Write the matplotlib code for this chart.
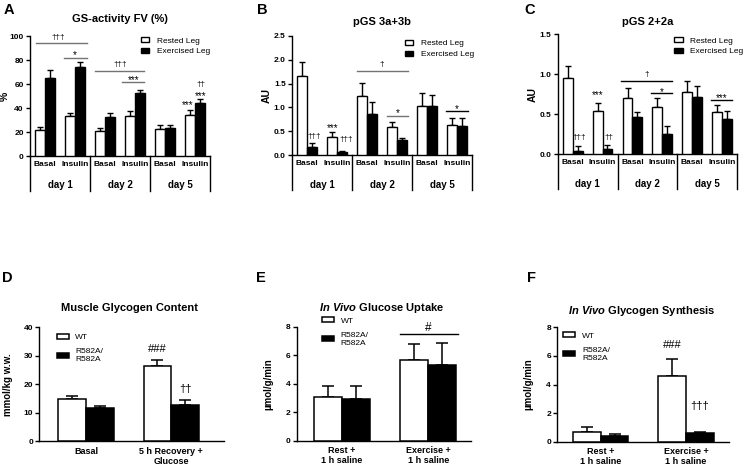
import numpy as np
import matplotlib.pyplot as plt
from matplotlib.ticker import FormatStrFormatter

plt.rcParams['font.family'] = ['Liberation Sans', 'DejaVu Sans']
plt.rcParams['mathtext.fontset'] = 'custom'
plt.rcParams['mathtext.it'] = 'Liberation Sans:italic:bold'
plt.rcParams['mathtext.rm'] = 'Liberation Sans:bold'
plt.rcParams['mathtext.bf'] = 'Liberation Sans:bold'

# --- data: top row (day 1 / 2 / 5, Basal / Insulin) ---
days = ['day 1', 'day 2', 'day 5']
conditions = ['Basal', 'Insulin']

gs_rested = [21.7, 33.3, 20.6, 33.3, 22.8, 34.2]
gs_rested_err = [2.5, 2.8, 2.7, 4.5, 3.3, 3.9]
gs_exercised = [65.0, 74.4, 32.2, 52.2, 23.3, 44.2]
gs_exercised_err = [6.4, 4.2, 3.4, 2.8, 2.5, 3.6]

p3_rested = [1.66, 0.39, 1.25, 0.60, 1.04, 0.64]
p3_rested_err = [0.28, 0.10, 0.27, 0.10, 0.26, 0.15]
p3_exercised = [0.17, 0.07, 0.86, 0.32, 1.04, 0.61]
p3_exercised_err = [0.08, 0.03, 0.25, 0.05, 0.23, 0.16]

p2_rested = [0.954, 0.546, 0.70, 0.59, 0.78, 0.525]
p2_rested_err = [0.15, 0.10, 0.13, 0.11, 0.13, 0.095]
p2_exercised = [0.042, 0.07, 0.46, 0.25, 0.72, 0.446]
p2_exercised_err = [0.062, 0.04, 0.07, 0.10, 0.13, 0.10]

# --- data: bottom row (WT vs R582A/R582A) ---
glyc_labels = ['Basal', '5 h Recovery +\nGlucose']
glyc_wt = [14.85, 26.5]
glyc_wt_err = [1.05, 2.2]
glyc_ko = [11.8, 12.6]
glyc_ko_err = [0.7, 1.8]

saline_labels = ['Rest +\n1 h saline', 'Exercise +\n1 h saline']
uptake_wt = [3.09, 5.66]
uptake_wt_err = [0.75, 1.12]
uptake_ko = [2.9, 5.31]
uptake_ko_err = [0.94, 1.52]

synth_wt = [0.67, 4.6]
synth_wt_err = [0.38, 1.21]
synth_ko = [0.37, 0.58]
synth_ko_err = [0.14, 0.12]

# significance marks: (x0, x1, y, colour) for lines, (x, y, text) for daggers / stars
a_lines = [(0.2, 1.89, 94, '0.45'), (1.14, 1.89, 82, '0.45'),
           (2.17, 3.8, 71, '0.45'), (3.08, 3.8, 61.4, '0.45')]
a_daggers = [(0.94, 96, '†††'), (3.0, 73, '†††'), (5.69, 56.5, '††')]
a_stars = [(1.5, 81.8, '*'), (3.45, 60.7, '***'), (5.25, 40.2, '***'), (5.69, 47.7, '***')]
b_lines = [(2.16, 3.88, 1.77, '0.45'), (3.18, 3.88, 0.83, '0.45'), (5.13, 5.88, 0.92, 'black')]
b_daggers = [(0.74, 0.33, '†††'), (1.8, 0.25, '†††'), (3.0, 1.83, '†')]
b_stars = [(1.36, 0.50, '***'), (3.52, 0.83, '*'), (5.5, 0.90, '*')]
c_lines = [(2.11, 3.83, 0.92, 'black'), (3.13, 3.83, 0.76, 'black'), (5.11, 5.82, 0.68, 'black')]
c_daggers = [(0.72, 0.16, '†††'), (1.72, 0.16, '††'), (2.97, 0.95, '†')]
c_stars = [(1.33, 0.70, '***'), (3.48, 0.735, '*'), (5.47, 0.66, '***')]

fig = plt.figure(figsize=(7.43, 4.66), dpi=100)

BW = 0.33


def style_axis(ax):
    ax.spines[['top', 'right']].set_visible(False)
    for s in ['left', 'bottom']:
        ax.spines[s].set_linewidth(1.0)
    ax.tick_params(axis='y', direction='out', length=3, width=1, labelsize=6, pad=1.5)
    for t in ax.get_yticklabels():
        t.set_fontweight('bold')


def leg_panel(ax, rested, rested_err, ex, ex_err, ymax, step, fmt, title, ylabel,
              lines, daggers, stars, legend_xy, title_y):
    x = np.arange(6) + 0.5
    ax.bar(x - BW / 2, rested, BW, color='white', edgecolor='black', lw=1, label='Rested Leg', zorder=3)
    ax.bar(x + BW / 2, ex, BW, color='black', edgecolor='black', lw=1, label='Exercised Leg', zorder=3)
    ax.errorbar(x - BW / 2, rested, yerr=[np.zeros(6), rested_err], fmt='none', ecolor='black',
                elinewidth=1, capsize=2.2, capthick=1, zorder=2)
    ax.errorbar(x + BW / 2, ex, yerr=[np.zeros(6), ex_err], fmt='none', ecolor='black',
                elinewidth=1, capsize=2.2, capthick=1, zorder=2)
    ax.set_xlim(0, 6)
    ax.set_ylim(0, ymax)
    ax.set_yticks(np.arange(0, ymax + step / 2, step))
    ax.yaxis.set_major_formatter(FormatStrFormatter(fmt))
    ax.set_xticks([])
    style_axis(ax)
    tr = ax.get_xaxis_transform()
    for i in range(6):
        ax.text(x[i], -0.07, conditions[i % 2], transform=tr, ha='center', va='center',
                fontsize=6, fontweight='bold')
    for j, d in enumerate(days):
        ax.text(2 * j + 1, -0.245, d, transform=tr, ha='center', va='center',
                fontsize=7, fontweight='bold')
    for xs in [0, 2, 4, 6]:
        ax.plot([xs, xs], [0, -0.29], transform=tr, color='black', lw=1, clip_on=False)
    for x0, x1, y, c in lines:
        ax.plot([x0, x1], [y, y], color=c, lw=1)
    for xm, ym, s in daggers:
        ax.text(xm, ym, s, ha='center', va='bottom', fontsize=6)
    for xm, ym, s in stars:
        ax.text(xm, ym, s, ha='center', va='baseline', fontsize=7)
    ax.text(0.5, title_y, title, transform=ax.transAxes, ha='center', va='center',
            fontsize=8, fontweight='bold')
    ax.set_ylabel(ylabel, fontsize=7.5, fontweight='bold')
    ax.yaxis.set_label_coords(-0.11, 0.5)
    ax.legend(loc='upper left', bbox_to_anchor=legend_xy, frameon=False, fontsize=6,
              handlelength=1.0, handleheight=0.55, handletextpad=0.9, labelspacing=0.4,
              borderpad=0, borderaxespad=0)


def geno_panel(ax, wt, wt_err, ko, ko_err, labels, ymax, step, xlim, title, ylabel,
               legend_xy, title_y):
    x = np.arange(2)
    w = 0.325
    ax.bar(x - w / 2, wt, w, color='white', edgecolor='black', lw=1.1, label='WT', zorder=3)
    ax.bar(x + w / 2, ko, w, color='black', edgecolor='black', lw=1.1, label='R582A/\nR582A', zorder=3)
    ax.errorbar(x - w / 2, wt, yerr=[np.zeros(2), wt_err], fmt='none', ecolor='black',
                elinewidth=1.1, capsize=4.5, capthick=1.1, zorder=2)
    ax.errorbar(x + w / 2, ko, yerr=[np.zeros(2), ko_err], fmt='none', ecolor='black',
                elinewidth=1.1, capsize=4.5, capthick=1.1, zorder=2)
    ax.set_xlim(*xlim)
    ax.set_ylim(0, ymax)
    ax.set_yticks(np.arange(0, ymax + step / 2, step))
    ax.set_xticks(x)
    ax.set_xticklabels(labels, fontsize=6.5, fontweight='bold', linespacing=1.15)
    ax.tick_params(axis='x', length=0, pad=4)
    style_axis(ax)
    ax.text(0.49, title_y, title, transform=ax.transAxes, ha='center', va='center',
            fontsize=8, fontweight='bold')
    ax.set_ylabel(ylabel, fontsize=7, fontweight='bold')
    ax.legend(loc='upper left', bbox_to_anchor=legend_xy, frameon=False, fontsize=6,
              handlelength=1.45, handleheight=0.6, handletextpad=0.8, labelspacing=0.85,
              borderpad=0, borderaxespad=0)
    return x, w


# ---------- top row ----------
axA = fig.add_axes([0.0404, 0.6652, 0.2423, 0.2575])
leg_panel(axA, gs_rested, gs_rested_err, gs_exercised, gs_exercised_err, 100, 20, '%d',
          'GS-activity FV (%)', '%', a_lines, a_daggers, a_stars, (0.617, 0.99), 1.139)

axB = fig.add_axes([0.3930, 0.6667, 0.2423, 0.2567])
leg_panel(axB, p3_rested, p3_rested_err, p3_exercised, p3_exercised_err, 2.5, 0.5, '%.1f',
          'pGS 3a+3b', 'AU', b_lines, b_daggers, b_stars, (0.628, 0.964), 1.115)

axC = fig.add_axes([0.7506, 0.6689, 0.2415, 0.2575])
leg_panel(axC, p2_rested, p2_rested_err, p2_exercised, p2_exercised_err, 1.5, 0.5, '%.1f',
          'pGS 2+2a', 'AU', c_lines, c_daggers, c_stars, (0.650, 0.977), 1.10)

# ---------- bottom row ----------
axD = fig.add_axes([0.0529, 0.0530, 0.2486, 0.2446])
x, w = geno_panel(axD, glyc_wt, glyc_wt_err, glyc_ko, glyc_ko_err, glyc_labels, 40, 10,
                  (-0.55, 1.62), 'Muscle Glycogen Content', 'mmol/kg w.w.', (0.094, 0.945), 1.167)
axD.yaxis.set_label_coords(-0.142, 0.5)
axD.text(x[1] - w / 2, 32.3, '###', ha='center', va='center', fontsize=8)
axD.text(x[1] + w / 2, 18.4, '††', ha='center', va='center', fontsize=8)

axE = fig.add_axes([0.3993, 0.0543, 0.2342, 0.2446])
x, w = geno_panel(axE, uptake_wt, uptake_wt_err, uptake_ko, uptake_ko_err, saline_labels, 8, 2,
                  (-0.52, 1.49), r'$\it{In\ Vivo}$ Glucose Uptake', 'µmol/g/min', (0.144, 1.085), 1.161)
axE.yaxis.set_label_coords(-0.136, 0.5)
axE.plot([x[1] - w - 0.002, x[1] + w + 0.02], [7.49, 7.49], color='black', lw=1)
axE.text(x[1], 7.9, '#', ha='center', va='center', fontsize=8.5)

axF = fig.add_axes([0.7501, 0.0521, 0.2315, 0.2455])
x, w = geno_panel(axF, synth_wt, synth_wt_err, synth_ko, synth_ko_err, saline_labels, 8, 2,
                  (-0.51, 1.51), r'$\it{In\ Vivo}$ Glycogen Synthesis', 'µmol/g/min', (0.035, 0.958), 1.142)
axF.yaxis.set_label_coords(-0.141, 0.5)
axF.text(x[1] - w / 2, 6.77, '###', ha='center', va='center', fontsize=8)
axF.text(x[1] + w / 2, 2.47, '†††', ha='center', va='center', fontsize=8)

# panel letters
for lab, fx, fy in [('A', 0.0114, 0.9785), ('B', 0.3526, 0.9775), ('C', 0.7133, 0.9775),
                    ('D', 0.0094, 0.4034), ('E', 0.3513, 0.4034), ('F', 0.7147, 0.4034)]:
    fig.text(fx, fy, lab, ha='center', va='center', fontsize=10.5, fontweight='bold')

fig.savefig('out.png', dpi=100)
